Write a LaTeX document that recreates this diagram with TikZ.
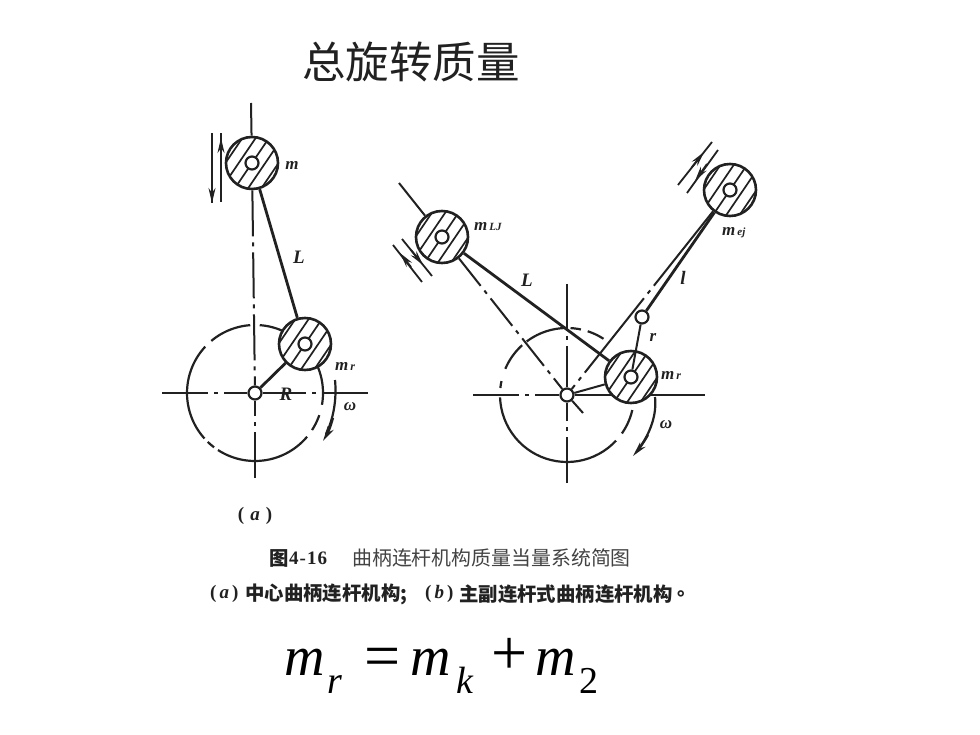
\documentclass[tikz,border=0pt]{standalone}
\usepackage{fontspec}
\setmainfont{Liberation Serif}
\newfontfamily\cjk{Noto Sans CJK SC}
\usetikzlibrary{arrows.meta}
\definecolor{ink}{gray}{0.13}
\tikzset{
  x=1pt,y=-1pt,
  thin line/.style={draw=ink,line width=2pt},
  rod/.style={draw=ink,line width=2.8pt},
  axis line/.style={draw=ink,line width=2pt,dash pattern=on 46pt off 6pt on 4pt off 6pt},
  ring/.style={draw=ink,line width=2.2pt},
  hole/.style={circle,draw=ink,fill=white,line width=2.2pt,minimum size=13pt,inner sep=0pt},
  massnode/.style={circle,draw=ink,fill=white,line width=2.6pt,minimum size=52pt,inner sep=0pt,
    path picture={
      \foreach \d in {-22,-11,0,11,22}{
        \draw[ink,line width=1.7pt,shift={(path picture bounding box.center)}]
          (\d*0.82-17,\d*0.57+25) -- (\d*0.82+17,\d*0.57-25);
      }}},
  lab/.style={inner sep=0pt,text=ink,font=\bfseries\itshape\fontsize{19}{19}\selectfont},
  smalllab/.style={inner sep=0pt,text=ink,font=\bfseries\itshape\fontsize{17}{17}\selectfont},
  captext/.style={inner sep=0pt,anchor=west,text=ink!85!white,font=\cjk\fontsize{19.9}{20}\selectfont},
  captextb/.style={inner sep=0pt,anchor=west,text=ink,font=\cjk\bfseries\fontsize{19.4}{20}\selectfont},
  caplat/.style={inner sep=0pt,anchor=west,text=ink,font=\bfseries\fontsize{19}{19}\selectfont},
  formula/.style={inner sep=0pt,anchor=base west,font=\itshape\fontsize{56}{56}\selectfont},
  formulaup/.style={inner sep=0pt,anchor=base west,font=\fontsize{64}{64}\selectfont},
  formulasub/.style={inner sep=0pt,anchor=base west,font=\itshape\fontsize{38}{38}\selectfont},
  formulanum/.style={inner sep=0pt,anchor=base west,font=\fontsize{38}{38}\selectfont},
  motion/.style={draw=ink,line width=1.8pt},
  motionhead/.style={draw=ink,line width=1.8pt,-{Stealth[length=15pt,width=7pt]}},
  spin/.style={draw=ink,line width=2.2pt},
  spinhead/.style={draw=ink,line width=2.2pt,-{Stealth[length=15pt,width=7pt]}}
}
\newcommand{\ringarc}[5]{\draw[ring] plot[domain=#4:#5,samples=30] ({#1+#3*cos(\x)},{#2-#3*sin(\x)});}
\begin{document}
\begin{tikzpicture}
\useasboundingbox (0,0) rectangle (980,735);
\fill[white] (0,0) rectangle (980,735);

% title
\node[inner sep=0pt,font=\cjk\fontsize{43.5}{44}\selectfont,text=ink] (title) at (411,62) {总旋转质量};

% ---------- figure (a)
\node[hole] (oa) at (255,393) {};
\coordinate (atop) at (251,103);
\coordinate (abot) at (255,478);
\coordinate (aleft) at (162,393);
\coordinate (aright) at (368,393);
\draw[axis line] (aleft) -- (oa);
\draw[axis line] (aright) -- (oa);
\draw[axis line] (abot) -- (oa);
\ringarc{255}{393}{68}{60}{86}
\ringarc{255}{393}{68}{94}{130}
\ringarc{255}{393}{68}{137}{222}
\ringarc{255}{393}{68}{226}{233}
\ringarc{255}{393}{68}{237}{320}
\ringarc{255}{393}{68}{327}{341}
\ringarc{255}{393}{68}{350}{385}
\node[massnode] (ma) at (252,163) {};
\node[massnode] (mb) at (305,344) {};
\node[hole] (ha) at (252,163) {};
\node[hole] (hb) at (305,344) {};
\draw[thin line] (ma) -- (atop);
\draw[axis line] (ma) -- (oa);
\draw[rod] (ma) -- (mb);
\draw[rod] (oa) -- (mb);

\coordinate (a1s) at (212,133); \coordinate (a1m) at (212,176); \coordinate (a1e) at (212,203);
\coordinate (a2s) at (221,202); \coordinate (a2m) at (221,165); \coordinate (a2e) at (221,138);
\draw[motion] (a1s) -- (a1e);
\draw[motionhead] (a1m) -- (a1e);
\draw[motion] (a2s) -- (221,133);
\draw[motionhead] (a2m) -- (a2e);
\coordinate (aw1) at (335,380);
\coordinate (aw2) at (323,441);
\draw[spin] (aw1) .. controls (337,400) and (333,420) .. (326,434);
\draw[spinhead] (333,418) .. controls (331,425) and (329,431) .. (aw2);

\node[smalllab] (lm) at (292,165) {m};
\node[lab] (lL) at (299,257) {L};
\node[smalllab,anchor=west] (lmr) at (335,366) {m\kern2pt\fontsize{12}{12}\selectfont r};
\node[lab] (lR) at (286,394) {R};
\node[smalllab] (lw) at (350,407) {ω};
\node[inner sep=0pt,text=ink,font=\bfseries\fontsize{19}{19}\selectfont] (capa) at (255,516) {(\kern6pt\textit{a}\kern6pt)};

% ---------- figure (b)
\node[hole] (ob) at (567,395) {};
\coordinate (btop) at (567,284);
\coordinate (bbot) at (567,483);
\coordinate (bleft) at (473,395);
\coordinate (bright) at (705,395);
\draw[axis line] (bleft) -- (ob);
\draw[thin line] (ob) -- (bright);
\draw[axis line] (btop) -- (ob);
\draw[axis line] (bbot) -- (ob);
\ringarc{567}{395}{67}{90}{127}
\ringarc{567}{395}{67}{132}{157}
\ringarc{567}{395}{67}{168}{174}
\ringarc{567}{395}{67}{182}{317}
\ringarc{567}{395}{67}{325}{347}
\ringarc{567}{395}{67}{57}{72}
\ringarc{567}{395}{67}{78}{87}

\node[massnode] (mc) at (442,237) {};
\node[massnode] (md) at (730,190) {};
\node[massnode] (me) at (631,377) {};
\node[hole] (hc) at (442,237) {};
\node[hole] (hd) at (730,190) {};
\node[hole] (he) at (631,377) {};
\node[hole] (hinge) at (642,317) {};
\coordinate (ctop) at (399,183);
\coordinate (cend) at (583,413);
\draw[thin line] (mc) -- (ctop);
\draw[thin line,dash pattern=on 35pt off 6pt on 4pt off 6pt] (mc) -- (ob);
\draw[thin line] (ob) -- (cend);
\draw[rod] (mc) -- (me);
\draw[rod] (md) -- (hinge);
\draw[thin line,dash pattern=on 95pt off 6pt on 4pt off 6pt] (md) -- (ob);
\draw[thin line] (hinge) -- (he);
\draw[thin line] (ob) -- (me);

\coordinate (c1s) at (393,245); \coordinate (c1e) at (422,282);
\coordinate (c2s) at (402,239); \coordinate (c2e) at (432,276);
\draw[motion] (c1s) -- (c1e);
\draw[motionhead] (411,267) -- (400,253);
\draw[motion] (c2s) -- (c2e);
\draw[motionhead] (411,250) -- (423,265);

\coordinate (d1s) at (712,142); \coordinate (d1e) at (678,185);
\coordinate (d2s) at (718,150); \coordinate (d2e) at (687,193);
\draw[motion] (d1s) -- (d1e);
\draw[motionhead] (692,167) -- (704,152);
\draw[motion] (d2s) -- (d2e);
\draw[motionhead] (707,164) -- (695,181);

\coordinate (bw1) at (655,397);
\coordinate (bw2) at (633,456);
\draw[spin] (bw1) .. controls (657,415) and (650,433) .. (640,447);
\draw[spinhead] (648,435) .. controls (644,442) and (639,449) .. (bw2);

\node[smalllab,anchor=west] (lmc) at (474,227) {m\kern2pt\fontsize{11}{11}\selectfont LJ};
\node[smalllab,anchor=west] (lmd) at (722,233) {m\kern2pt\fontsize{11}{11}\selectfont ej};
\node[lab] (lLb) at (527,280) {L};
\node[lab] (ll) at (683,278) {l};
\node[smalllab] (lr) at (653,337) {r};
\node[smalllab,anchor=west] (lme) at (661,375) {m\kern2pt\fontsize{12}{12}\selectfont r};
\node[smalllab] (lwb) at (666,425) {ω};

% ---------- caption
\node[captextb] (c1a) at (269,558) {图};
\node[caplat] (c1b) at (289,558) {4\kern1pt-\kern1pt1\kern1pt6};
\node[captext] (c1c) at (352,558) {曲柄连杆机构质量当量系统简图};
\node[caplat] (c2a) at (210,594) {(\kern3pt\textit{a}\kern3pt)};
\node[captextb] (c2b) at (245,594) {中心曲柄连杆机构;};
\node[caplat] (c2c) at (425,594) {(\kern3pt\textit{b}\kern3pt)};
\node[captextb] (c2d) at (459,594) {主副连杆式曲柄连杆机构};
\node[captextb] (c2e) at (677,594) {。};

% ---------- formula
\node[formula] (f1) at (284,675) {m};
\node[formulasub] (f2) at (327,693) {r};
\node[formulaup] (f3) at (364,677) {=};
\node[formula] (f4) at (410,675) {m};
\node[formulasub] (f5) at (456,693) {k};
\node[formulaup] (f6) at (491,674) {+};
\node[formula] (f7) at (535,675) {m};
\node[formulanum] (f8) at (579,693) {2};
\end{tikzpicture}
\end{document}
